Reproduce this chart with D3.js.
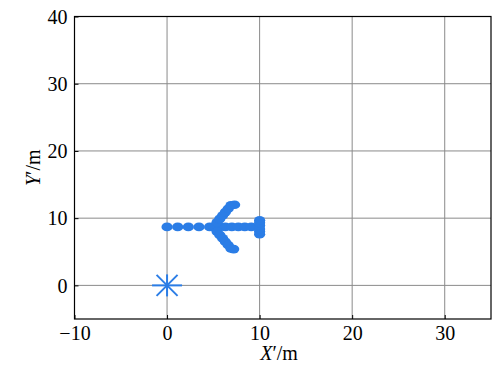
<!DOCTYPE html>
<html>
<head>
<meta charset="utf-8">
<script src="https://cdn.jsdelivr.net/npm/d3@7"></script>
<style>
  html, body { margin: 0; padding: 0; background: #fff; }
  svg { display: block; }
  svg text, .tick text {
    font-family: "Liberation Serif", "Times New Roman", Times, "DejaVu Serif", serif !important;
    font-size: 20px !important;
    fill: #000;
  }
</style>
</head>
<body>
<svg id="chart" width="497" height="373"></svg>
<script>
// Formation points (X′, Y′) in metres
const pointX = [0, 1.15, 2.3, 3.45, 4.6, 5.1, 5.7, 6.3, 7.0, 7.7, 8.4, 9.1, 9.9,
                10.0, 10.0, 10.0, 10.0, 10.0, 10.0,
                5.4, 5.7, 6.0, 6.3, 6.6, 6.9, 7.3,
                5.4, 5.7, 6.0, 6.3, 6.6, 6.9, 7.2];
const pointY = [8.7, 8.7, 8.7, 8.7, 8.7, 8.7, 8.7, 8.7, 8.7, 8.7, 8.7, 8.7, 8.7,
                7.6, 8.0, 8.4, 8.9, 9.3, 9.7,
                9.4, 9.9, 10.4, 10.9, 11.4, 11.9, 12.0,
                8.0, 7.5, 7.0, 6.5, 6.0, 5.5, 5.4];
// Reference point
const originX = [0];
const originY = [0];

const xTicks = [-10, 0, 10, 20, 30];
const yTicks = [0, 10, 20, 30, 40];
const xDomain = [-10, 35];
const yDomain = [-5, 40];

const svg = d3.select("#chart");
const mLeft = 74.5, mRight = 491, mTop = 16.5, mBottom = 319;
const color = "#2b7de6";

const x = d3.scaleLinear().domain(xDomain).range([mLeft, mRight]);
const y = d3.scaleLinear().domain(yDomain).range([mBottom, mTop]);

// grid
const grid = svg.append("g");
grid.selectAll("line.gx").data(xTicks.filter(d => d > xDomain[0])).enter().append("line")
  .attr("x1", d => x(d)).attr("x2", d => x(d)).attr("y1", mTop).attr("y2", mBottom)
  .attr("stroke", "#8a8a8a").attr("stroke-width", 1);
grid.selectAll("line.gy").data(yTicks.filter(d => d < yDomain[1])).enter().append("line")
  .attr("x1", mLeft).attr("x2", mRight).attr("y1", d => y(d)).attr("y2", d => y(d))
  .attr("stroke", "#8a8a8a").attr("stroke-width", 1);

// axes with inward ticks
const xAxis = d3.axisBottom(x).tickValues(xTicks).tickSizeInner(-4).tickSizeOuter(0)
  .tickFormat(d => d < 0 ? "\u2212" + Math.abs(d) : d);
const yAxis = d3.axisLeft(y).tickValues(yTicks).tickSizeInner(-4).tickSizeOuter(0);

const gx = svg.append("g").attr("transform", `translate(0,${mBottom})`).call(xAxis);
const gy = svg.append("g").attr("transform", `translate(${mLeft},0)`).call(yAxis);
for (const g of [gx, gy]) {
  g.attr("font-family", null).attr("font-size", null);
  g.select(".domain").remove();
  g.selectAll(".tick line").attr("stroke", "#000");
}
gx.selectAll(".tick text").attr("dy", "0.95em").attr("y", 2);
gy.selectAll(".tick text").attr("x", -7).attr("dy", "0.34em");

// frame
svg.append("rect").attr("x", mLeft).attr("y", mTop)
  .attr("width", mRight - mLeft).attr("height", mBottom - mTop)
  .attr("fill", "none").attr("stroke", "#000").attr("stroke-width", 1.2);

// axis titles
const xt = svg.append("text").attr("x", x(0) + 112).attr("y", 360)
  .attr("text-anchor", "middle");
xt.append("tspan").attr("font-style", "italic").text("X");
xt.append("tspan").text("\u2032/m");

const yt = svg.append("text").attr("transform", `translate(40,${y(17.5)}) rotate(-90)`)
  .attr("text-anchor", "middle");
yt.append("tspan").attr("font-style", "italic").text("Y");
yt.append("tspan").text("\u2032/m");

// formation points
const pts = d3.range(pointX.length).map(i => ({ x: pointX[i], y: pointY[i] }));
svg.append("g").selectAll("ellipse").data(pts).enter().append("ellipse")
  .attr("cx", d => x(d.x)).attr("cy", d => y(d.y))
  .attr("rx", 5.6).attr("ry", 4.3).attr("fill", color);

// reference asterisk
const ast = svg.append("g");
originX.forEach((ox, i) => {
  const cx = x(ox), cy = y(originY[i]);
  const arms = [[15, 0], [0, 11], [10.5, 10.5], [10.5, -10.5]];
  arms.forEach(([dx, dy]) => {
    ast.append("line").attr("x1", cx - dx).attr("y1", cy - dy)
      .attr("x2", cx + dx).attr("y2", cy + dy)
      .attr("stroke", color).attr("stroke-width", 2);
  });
});
</script>
</body>
</html>
